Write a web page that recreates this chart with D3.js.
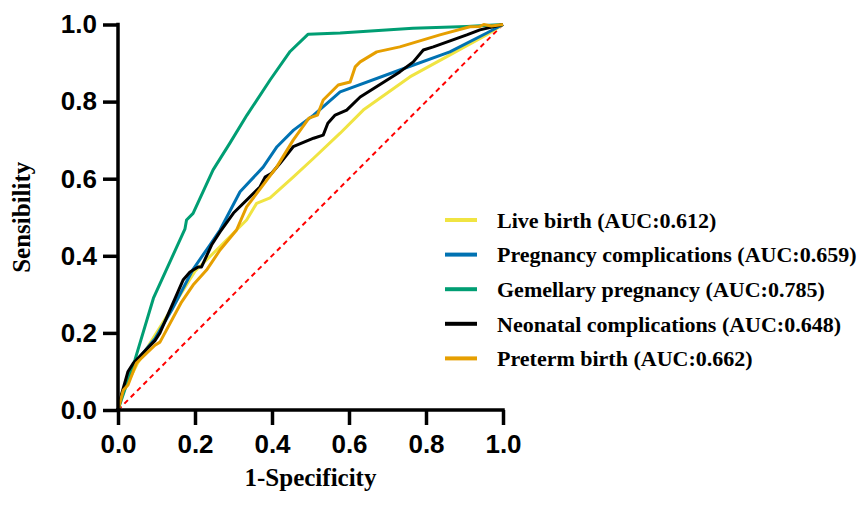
<!DOCTYPE html>
<html>
<head>
<meta charset="utf-8">
<script src="https://cdn.jsdelivr.net/npm/d3@7"></script>
<style>
  body { margin: 0; background: #fff; }
  svg { display: block; }
</style>
</head>
<body>
<div id="chart"></div>
<script>
// ROC curves, points as [1-specificity, sensitivity]
const seriesNames = [
    "Live birth (AUC:0.612)",
    "Pregnancy complications (AUC:0.659)",
    "Gemellary pregnancy (AUC:0.785)",
    "Neonatal complications (AUC:0.648)",
    "Preterm birth (AUC:0.662)"
];
const seriesColors = ["#f0e442", "#0072b2", "#009e73", "#000000", "#e69f00"];

const liveBirth = [[0,0],[0.01,0.04],[0.05,0.12],[0.1,0.2],[0.15,0.28],[0.2,0.36],[0.256,0.415],[0.334,0.493],[0.36,0.536],[0.395,0.55],[0.455,0.604],[0.508,0.653],[0.577,0.718],[0.637,0.778],[0.758,0.864],[0.853,0.916],[0.957,0.973],[1,1]];
const pregComp = [[0,0],[0.01,0.04],[0.03,0.1],[0.05,0.13],[0.096,0.185],[0.14,0.26],[0.195,0.365],[0.24,0.43],[0.265,0.467],[0.317,0.566],[0.377,0.63],[0.413,0.683],[0.456,0.726],[0.508,0.765],[0.577,0.825],[0.732,0.882],[0.862,0.929],[0.958,0.978],[1,1]];
const gemellary = [[0,0],[0.01,0.03],[0.044,0.13],[0.092,0.29],[0.174,0.47],[0.178,0.493],[0.195,0.51],[0.247,0.623],[0.291,0.693],[0.335,0.765],[0.395,0.856],[0.447,0.93],[0.494,0.975],[0.577,0.978],[0.766,0.99],[0.906,0.995],[1,1]];
const neonatal = [[0,0],[0.01,0.044],[0.026,0.1],[0.04,0.122],[0.096,0.18],[0.109,0.2],[0.169,0.337],[0.187,0.358],[0.208,0.371],[0.217,0.371],[0.243,0.428],[0.265,0.462],[0.3,0.511],[0.369,0.579],[0.382,0.604],[0.399,0.614],[0.421,0.64],[0.455,0.683],[0.508,0.705],[0.533,0.713],[0.545,0.744],[0.564,0.765],[0.594,0.778],[0.629,0.812],[0.732,0.877],[0.767,0.903],[0.793,0.934],[0.819,0.942],[0.906,0.973],[0.94,0.986],[1,1]];
const preterm = [[0,0],[0.014,0.052],[0.026,0.065],[0.048,0.122],[0.096,0.168],[0.109,0.176],[0.165,0.28],[0.195,0.324],[0.23,0.363],[0.265,0.415],[0.308,0.467],[0.334,0.527],[0.412,0.63],[0.455,0.7],[0.496,0.757],[0.518,0.765],[0.533,0.804],[0.572,0.843],[0.603,0.851],[0.616,0.89],[0.629,0.903],[0.672,0.929],[0.732,0.942],[0.836,0.973],[0.914,0.994],[0.94,0.995],[0.95,1],[0.97,0.996],[1,1]];

const allSeries = [liveBirth, pregComp, gemellary, neonatal, preterm];
const tickValues = [0, 0.2, 0.4, 0.6, 0.8, 1.0];

const margin = { top: 24.5, right: 359, bottom: 96, left: 118 };
const width = 862 - margin.left - margin.right;
const height = 506 - margin.top - margin.bottom;

const svg = d3.select("#chart")
    .append("svg")
    .attr("width", 862)
    .attr("height", 506)
    .append("g")
    .attr("transform", `translate(${margin.left}, ${margin.top})`);

const x = d3.scaleLinear().domain([0, 1]).range([0, width]);
const y = d3.scaleLinear().domain([0, 1]).range([height, 0]);

// Reference diagonal
svg.append("line")
    .attr("x1", x(0)).attr("y1", y(0))
    .attr("x2", x(1)).attr("y2", y(1))
    .attr("stroke", "#ff0000")
    .attr("stroke-width", 2)
    .attr("stroke-dasharray", "5,4");

// Curves
const line = d3.line()
    .x(d => x(d[0]))
    .y(d => y(d[1]));

allSeries.forEach((s, i) => {
    svg.append("path")
        .datum(s)
        .attr("fill", "none")
        .attr("stroke", seriesColors[i])
        .attr("stroke-width", 3)
        .attr("stroke-linejoin", "round")
        .attr("d", line);
});

// Axes
const xAxis = svg.append("g")
    .attr("transform", `translate(0, ${height})`)
    .call(d3.axisBottom(x).tickValues(tickValues).tickFormat(d3.format(".1f")).tickSize(15).tickPadding(10));
const yAxis = svg.append("g")
    .call(d3.axisLeft(y).tickValues(tickValues).tickFormat(d3.format(".1f")).tickSize(15).tickPadding(6));

[xAxis, yAxis].forEach(a => {
    a.select(".domain").attr("stroke", "#000").attr("stroke-width", 3.5).attr("stroke-linecap", "square");
    a.selectAll(".tick line").attr("stroke", "#000").attr("stroke-width", 3.5);
    a.selectAll("text")
        .style("font-family", "'Liberation Sans', Arial, sans-serif")
        .style("font-size", "26px")
        .style("font-weight", "bold")
        .attr("fill", "#000");
});
// remove the outer tick stubs that d3 adds to the domain path
xAxis.select(".domain").attr("d", `M0,0H${width}`);
yAxis.select(".domain").attr("d", `M0,${height}V0`);

// Axis titles
svg.append("text")
    .attr("text-anchor", "middle")
    .attr("x", width / 2)
    .attr("y", height + 76)
    .style("font-family", "'Liberation Serif', 'Times New Roman', serif")
    .style("font-size", "25px")
    .style("font-weight", "bold")
    .text("1-Specificity");

svg.append("text")
    .attr("text-anchor", "middle")
    .attr("transform", `translate(${22 - margin.left + 8}, ${height / 2}) rotate(-90)`)
    .style("font-family", "'Liberation Serif', 'Times New Roman', serif")
    .style("font-size", "25px")
    .style("font-weight", "bold")
    .text("Sensibility");

// Legend
const legend = svg.append("g")
    .attr("transform", `translate(${445 - margin.left}, ${220 - margin.top})`);

seriesNames.forEach((name, i) => {
    const row = legend.append("g").attr("transform", `translate(0, ${i * 34.6})`);
    row.append("line")
        .attr("x1", 0).attr("x2", 32)
        .attr("stroke", seriesColors[i])
        .attr("stroke-width", 4);
    row.append("text")
        .attr("x", 52)
        .attr("dy", "0.35em")
        .style("font-family", "'Liberation Serif', 'Times New Roman', serif")
        .style("font-size", "22px")
        .style("font-weight", "bold")
        .text(name);
});
</script>
</body>
</html>
